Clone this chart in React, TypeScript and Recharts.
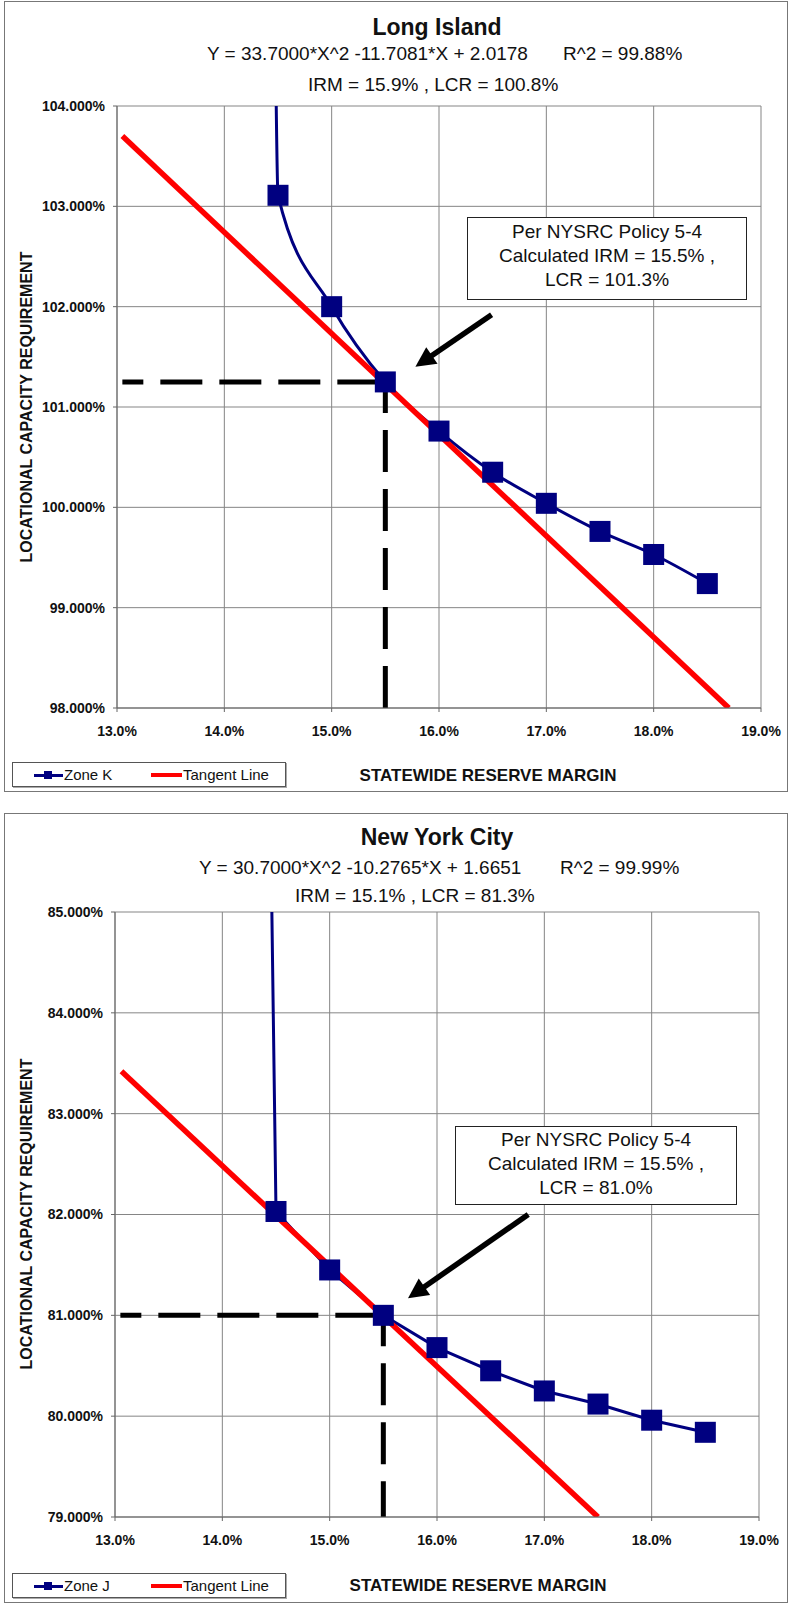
import React from 'react';
import { LineChart, Line, XAxis, YAxis, CartesianGrid, ReferenceLine } from 'recharts';

const FONT = '"Liberation Sans", Arial, Helvetica, sans-serif';
const NAVY = '#000080';
const RED = '#ff0000';
const INK = '#111';

// ---------- data ----------
const xTicks = [13, 14, 15, 16, 17, 18, 19];
const reserveMargins = [14.5, 15.0, 15.5, 16.0, 16.5, 17.0, 17.5, 18.0, 18.5];

// Long Island (Zone K)
const liYTicks = [98, 99, 100, 101, 102, 103, 104];
const zoneK = [103.11, 102.0, 101.25, 100.76, 100.35, 100.04, 99.76, 99.53, 99.24];
const zoneKLead = [14.48, 104.3]; // curve leaving the top of the plot
const liTangentX = [13.05, 18.7];
const liTangentY = [103.7, 98.0];
const liPolicy = [15.5, 101.25];
const liArrowFrom = [16.49, 101.92];
const liArrowTo = [15.78, 101.4];

// New York City (Zone J)
const nycYTicks = [79, 80, 81, 82, 83, 84, 85];
const zoneJ = [82.03, 81.45, 81.0, 80.68, 80.45, 80.25, 80.12, 79.96, 79.84];
const zoneJLead = [14.455, 85.5];
const nycTangentX = [13.06, 17.5];
const nycTangentY = [83.42, 79.0];
const nycPolicy = [15.5, 81.0];
const nycArrowFrom = [16.85, 82.0];
const nycArrowTo = [15.73, 81.17];

const dashStartX = 13.05;

const toPts = (xs: number[], ys: number[]) => xs.map((x, i) => ({ x, y: ys[i] }));

// ---------- helpers ----------
const squareDot = (size: number) => (p: any) => {
  const { cx, cy, index } = p;
  if (cx == null || cy == null || isNaN(cx) || isNaN(cy)) return <g key={`e${index}`} />;
  return <rect key={`s${index}`} x={cx - size / 2} y={cy - size / 2} width={size} height={size} fill={NAVY} />;
};

const arrowShape = (p: any) => {
  const { x1, y1, x2, y2 } = p;
  const dx = x2 - x1;
  const dy = y2 - y1;
  const len = Math.hypot(dx, dy) || 1;
  const ux = dx / len;
  const uy = dy / len;
  const hl = 20;
  const hw = 10;
  const bx = x2 - ux * hl;
  const by = y2 - uy * hl;
  return (
    <g>
      <line x1={x1} y1={y1} x2={bx + ux * 3} y2={by + uy * 3} stroke="#000" strokeWidth={5.5} />
      <polygon
        points={`${x2},${y2} ${bx - uy * hw},${by + ux * hw} ${bx + uy * hw},${by - ux * hw}`}
        fill="#000"
      />
    </g>
  );
};

type TProps = { x: number; y: number; size: number; bold?: boolean; anchor?: 'start' | 'middle'; children: React.ReactNode };
const T = ({ x, y, size, bold, anchor = 'middle', children }: TProps) => (
  <div
    style={{
      position: 'absolute',
      left: x,
      top: y - 0.488 * size,
      fontSize: size,
      lineHeight: `${size}px`,
      fontWeight: bold ? 'bold' : 'normal',
      whiteSpace: 'pre',
      color: INK,
      transform: anchor === 'middle' ? 'translateX(-50%)' : undefined,
      fontFamily: FONT,
    }}
  >
    {children}
  </div>
);

type PanelProps = {
  top: number;
  yTicks: number[];
  yAxisWidth: number;
  rightMargin: number;
  bottomMargin: number;
  zone: number[];
  lead: number[];
  curve: 'monotone' | 'linear';
  tanX: number[];
  tanY: number[];
  policy: number[];
  arrowFrom: number[];
  arrowTo: number[];
};

const Panel = ({ top, yTicks, yAxisWidth, rightMargin, bottomMargin, zone, lead, curve, tanX, tanY, policy, arrowFrom, arrowTo }: PanelProps) => {
  const yMin = yTicks[0];
  const yMax = yTicks[yTicks.length - 1];
  const zoneData = [{ x: lead[0], y: lead[1] }, ...toPts(reserveMargins, zone)];
  const tangentData = toPts(tanX, tanY);
  const hDash = [{ x: policy[0], y: policy[1] }, { x: dashStartX, y: policy[1] }];
  const vDash = [{ x: policy[0], y: policy[1] }, { x: policy[0], y: yMin }];
  const tickStyle = { fill: INK, fontSize: 14, fontWeight: 'bold', fontFamily: FONT };
  return (
    <div style={{ position: 'absolute', left: 0, top, width: 790, height: 800 }}>
      <LineChart
        width={790}
        height={800}
        margin={{ top: 106, right: rightMargin, bottom: bottomMargin, left: 0 }}
      >
        <CartesianGrid stroke="#858585" strokeWidth={1} />
        <XAxis
          type="number"
          dataKey="x"
          domain={[13, 19]}
          ticks={xTicks}
          interval={0}
          tickFormatter={(v: number) => `${v.toFixed(1)}%`}
          tick={tickStyle}
          tickSize={4}
          tickMargin={14}
          height={40}
          stroke="#666"
        />
        <YAxis
          type="number"
          dataKey="y"
          domain={[yMin, yMax]}
          ticks={yTicks}
          interval={0}
          allowDataOverflow
          tickFormatter={(v: number) => `${v.toFixed(3)}%`}
          tick={tickStyle}
          tickSize={4}
          tickMargin={8}
          width={yAxisWidth}
          stroke="#666"
        />
        <Line
          data={hDash}
          dataKey="y"
          stroke="#000"
          strokeWidth={5}
          strokeDasharray="42 17"
          strokeDashoffset={-6}
          dot={false}
          activeDot={false}
          isAnimationActive={false}
          legendType="none"
        />
        <Line
          data={vDash}
          dataKey="y"
          stroke="#000"
          strokeWidth={5}
          strokeDasharray="42 17"
          strokeDashoffset={11}
          dot={false}
          activeDot={false}
          isAnimationActive={false}
          legendType="none"
        />
        <Line
          data={zoneData}
          dataKey="y"
          type={curve}
          stroke={NAVY}
          strokeWidth={3}
          dot={squareDot(21)}
          activeDot={false}
          isAnimationActive={false}
        />
        <Line
          data={tangentData}
          dataKey="y"
          stroke={RED}
          strokeWidth={5.5}
          dot={false}
          activeDot={false}
          isAnimationActive={false}
        />
        <ReferenceLine
          segment={[
            { x: arrowFrom[0], y: arrowFrom[1] },
            { x: arrowTo[0], y: arrowTo[1] },
          ]}
          shape={arrowShape}
        />
      </LineChart>
    </div>
  );
};

const AnnotBox = ({ left, top, width, height, lines, lineYs }: { left: number; top: number; width: number; height: number; lines: string[]; lineYs: number[] }) => (
  <>
    <div
      style={{
        position: 'absolute',
        left,
        top,
        width,
        height,
        boxSizing: 'border-box',
        border: '1.5px solid #222',
        background: '#fff',
      }}
    />
    {lines.map((l, i) => (
      <T key={i} x={left + width / 2} y={lineYs[i]} size={19}>
        {l}
      </T>
    ))}
  </>
);

const LegendBox = ({ top, zoneName }: { top: number; zoneName: string }) => (
  <div
    style={{
      position: 'absolute',
      left: 12,
      top,
      width: 274,
      height: 25,
      boxSizing: 'border-box',
      border: '1px solid #555',
      boxShadow: '1px 1px 0 #aaa',
      background: '#fff',
    }}
  >
    <div style={{ position: 'absolute', left: 21, top: 10.5, width: 29, height: 3, background: NAVY }} />
    <div style={{ position: 'absolute', left: 31, top: 8, width: 8, height: 8, background: NAVY }} />
    <div style={{ position: 'absolute', left: 51, top: 4, fontSize: 15, lineHeight: '15px', color: INK, fontFamily: FONT }}>
      {zoneName}
    </div>
    <div style={{ position: 'absolute', left: 138, top: 10, width: 31, height: 4, background: RED }} />
    <div style={{ position: 'absolute', left: 170, top: 4, fontSize: 15, lineHeight: '15px', color: INK, fontFamily: FONT }}>
      Tangent Line
    </div>
  </div>
);

const YTitle = ({ cy }: { cy: number }) => (
  <div
    style={{
      position: 'absolute',
      left: 27,
      top: cy,
      transform: 'translate(-50%, -50%) rotate(-90deg)',
      fontSize: 16,
      lineHeight: '16px',
      fontWeight: 'bold',
      whiteSpace: 'nowrap',
      color: INK,
      fontFamily: FONT,
    }}
  >
    LOCATIONAL CAPACITY REQUIREMENT
  </div>
);

export default function App() {
  return (
    <div style={{ position: 'absolute', left: 0, top: 0, width: 790, height: 1606, background: '#fff', fontFamily: FONT, overflow: 'hidden' }}>
      {/* frames */}
      <div style={{ position: 'absolute', left: 4, top: 1, width: 784, height: 791, boxSizing: 'border-box', border: '1.5px solid #777' }} />
      <div style={{ position: 'absolute', left: 4, top: 813, width: 784, height: 790, boxSizing: 'border-box', border: '1.5px solid #777' }} />

      {/* Long Island */}
      <Panel
        top={0}
        yTicks={liYTicks}
        yAxisWidth={117}
        rightMargin={29}
        bottomMargin={52}
        zone={zoneK}
        lead={zoneKLead}
        curve="monotone"
        tanX={liTangentX}
        tanY={liTangentY}
        policy={liPolicy}
        arrowFrom={liArrowFrom}
        arrowTo={liArrowTo}
      />
      <T x={437} y={27} size={23} bold>Long Island</T>
      <T x={207} y={53} size={19} anchor="start">Y = 33.7000*X^2 -11.7081*X + 2.0178</T>
      <T x={563} y={53} size={19} anchor="start">R^2 = 99.88%</T>
      <T x={308} y={84} size={19} anchor="start">IRM = 15.9% , LCR = 100.8%</T>
      <AnnotBox
        left={467}
        top={217}
        width={280}
        height={83}
        lines={['Per NYSRC Policy 5-4', 'Calculated IRM = 15.5% ,', 'LCR = 101.3%']}
        lineYs={[231, 255, 279]}
      />
      <YTitle cy={407} />
      <T x={488} y={775} size={17} bold>STATEWIDE RESERVE MARGIN</T>
      <LegendBox top={762} zoneName="Zone K" />

      {/* New York City */}
      <Panel
        top={806}
        yTicks={nycYTicks}
        yAxisWidth={115}
        rightMargin={31}
        bottomMargin={49}
        zone={zoneJ}
        lead={zoneJLead}
        curve="linear"
        tanX={nycTangentX}
        tanY={nycTangentY}
        policy={nycPolicy}
        arrowFrom={nycArrowFrom}
        arrowTo={nycArrowTo}
      />
      <T x={437} y={837} size={23} bold>New York City</T>
      <T x={199} y={867} size={19} anchor="start">Y = 30.7000*X^2 -10.2765*X + 1.6651</T>
      <T x={560} y={867} size={19} anchor="start">R^2 = 99.99%</T>
      <T x={295} y={895} size={19} anchor="start">IRM = 15.1% , LCR = 81.3%</T>
      <AnnotBox
        left={455}
        top={1126}
        width={282}
        height={79}
        lines={['Per NYSRC Policy 5-4', 'Calculated IRM = 15.5% ,', 'LCR = 81.0%']}
        lineYs={[1139, 1163, 1187]}
      />
      <YTitle cy={1214} />
      <T x={478} y={1585} size={17} bold>STATEWIDE RESERVE MARGIN</T>
      <LegendBox top={1573} zoneName="Zone J" />
    </div>
  );
}
